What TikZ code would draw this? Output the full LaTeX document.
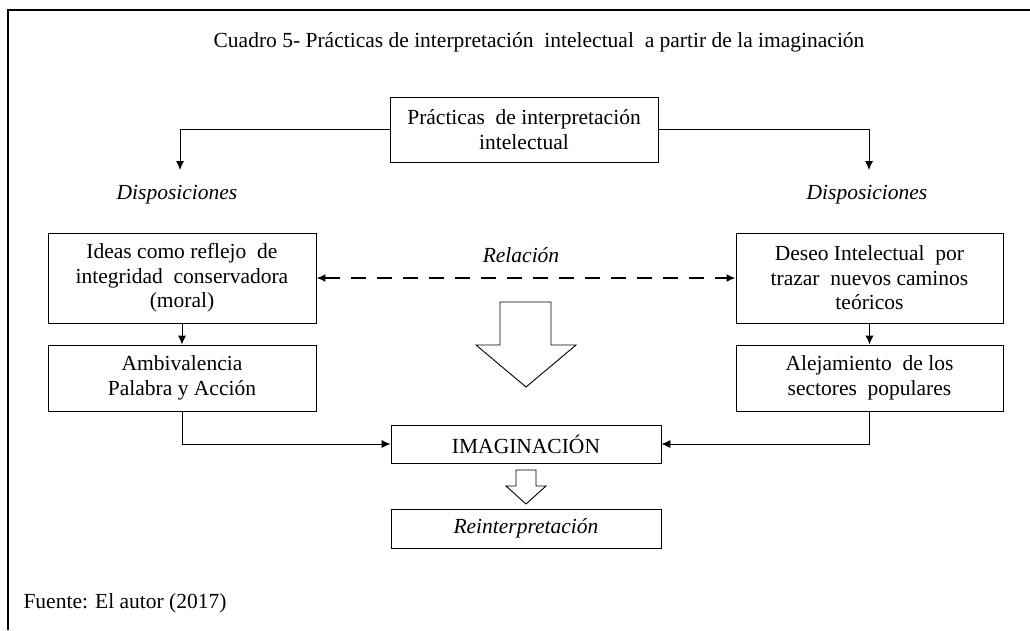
\documentclass[tikz,border=0pt]{standalone}
\usepackage{fontspec}
\setmainfont{Liberation Serif}
\usetikzlibrary{arrows.meta}
\begin{document}
\begin{tikzpicture}[x=1pt,y=-1pt]
\tikzstyle{every node}=[font=\fontsize{21.5}{24.5}\selectfont]
\tikzstyle{box}=[draw, line width=0.9pt, align=center, inner sep=2pt]
\tikzstyle{link}=[line width=0.9pt, -{Latex[length=9pt,width=8pt]}]
\tikzstyle{hollow}=[draw, line width=0.9pt, fill=white, line join=miter]

\useasboundingbox (0,0) rectangle (1030,630);
\draw[line width=1.2pt] (8,630) -- (8,10) -- (1030,10);

\node (title) at (539,42) {Cuadro 5- Prácticas de interpretación\ \ intelectual\ \ a partir de la imaginación};

\node[box, minimum width=268, minimum height=65] (top) at (524,129.5) {Prácticas\ \ de interpretación\\intelectual};

\coordinate (dl) at (180,170);
\coordinate (dr) at (869,170);
\node (displ) at (177,195) {\itshape Disposiciones};
\node (dispr) at (867,195) {\itshape Disposiciones};

\node[box, minimum width=268, minimum height=90] (ideas) at (182,278) {Ideas como reflejo\ \ de\\integridad\ \ conservadora\\(moral)};
\node[box, minimum width=268, minimum height=66] (ambiv) at (182,378) {Ambivalencia\\Palabra y Acción};
\node[box, minimum width=267, minimum height=90] (deseo) at (869.5,278) {Deseo Intelectual\ \ por\\trazar\ \ nuevos caminos\\teóricos};
\node[box, minimum width=267, minimum height=66] (alej) at (869.5,378) {Alejamiento\ \ de los\\sectores\ \ populares};

\node (rel) at (521,255) {\itshape Relación};

\node[box, minimum width=270, minimum height=38] (imag) at (526,444) {IMAGINACIÓN};
\node[box, minimum width=270, minimum height=39] (reint) at (526,528.5) {\itshape Reinterpretación};

\node[anchor=west] (fuente) at (20,603) {Fuente: El autor (2017)};

\draw[link] (top.west) -| (dl);
\draw[link] (top.east) -| (dr);
\draw[link] (ideas.south) -- (ambiv.north);
\draw[link] (deseo.south) -- (alej.north);
\draw[{Latex[length=9pt,width=8pt]}-{Latex[length=9pt,width=8pt]}, line width=2.2pt, dash pattern=on 15pt off 11pt] (ideas.east) -- (deseo.west);
\draw[link] (ambiv.south) |- (imag.west);
\draw[link] (alej.south) |- (imag.east);

% block arrows
\draw[hollow] (500,302) -- (551,302) -- (551,345) -- (576,345) -- (526,387) -- (476,345) -- (500,345) -- cycle;
\draw[hollow] (516,470) -- (536,470) -- (536,486) -- (546,486) -- (526,504) -- (506,486) -- (516,486) -- cycle;
\end{tikzpicture}
\end{document}
